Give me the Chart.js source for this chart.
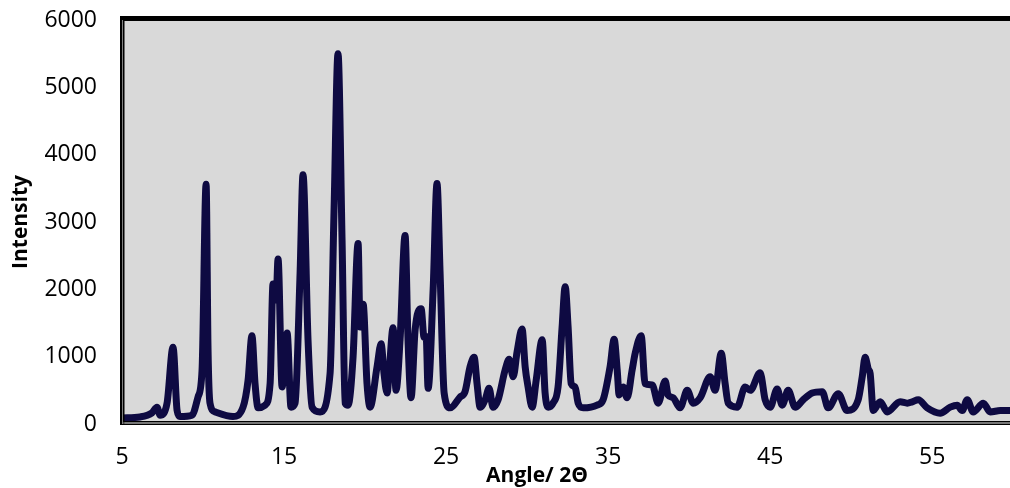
<!DOCTYPE html>
<html>
<head>
<meta charset="utf-8">
<title>Difractograma</title>
<script src="https://cdn.jsdelivr.net/npm/chart.js@4/dist/chart.umd.min.js"></script>
<style>
  html, body { margin: 0; padding: 0; background: #fff; }
  canvas { display: block; }
</style>
</head>
<body>
<canvas id="graficoDRX" width="1010" height="488"></canvas>
<script>
// Patrón de difracción: ángulo 2Θ y su intensidad
const angulos = [
  5.00, 6.11, 6.85, 7.16, 7.35, 7.78, 8.15, 8.40, 8.58, 9.32,
  9.69, 9.94, 10.19, 10.31, 10.43, 10.74, 11.85, 12.47, 12.78, 13.02,
  13.21, 13.40, 13.83, 14.14, 14.32, 14.51, 14.63, 14.88, 15.19, 15.43,
  15.68, 15.99, 16.17, 16.48, 16.73, 17.22, 17.84, 18.09, 18.33, 18.58,
  18.77, 18.95, 19.26, 19.57, 19.69, 19.88, 20.12, 20.31, 20.74, 20.99,
  21.17, 21.36, 21.48, 21.73, 21.91, 22.16, 22.47, 22.65, 22.84, 23.09,
  23.46, 23.64, 23.77, 23.89, 24.20, 24.44, 24.63, 24.88, 25.25, 25.86,
  26.17, 26.48, 26.73, 26.91, 27.10, 27.41, 27.65, 27.90, 28.21, 28.64,
  28.89, 29.14, 29.38, 29.69, 29.88, 30.06, 30.31, 30.56, 30.93, 31.11,
  31.30, 31.60, 31.91, 32.16, 32.35, 32.53, 32.72, 32.96, 33.15, 33.46,
  34.32, 34.69, 35.12, 35.37, 35.56, 35.68, 35.93, 36.17, 36.48, 36.67,
  37.04, 37.28, 37.72, 38.09, 38.52, 38.70, 39.01, 39.44, 39.88, 40.25,
  40.68, 41.30, 41.60, 41.98, 42.22, 42.41, 42.96, 43.46, 43.77, 44.38,
  44.69, 45.00, 45.43, 45.74, 46.11, 46.54, 47.04, 47.59, 48.21, 48.58,
  49.20, 49.75, 50.43, 50.68, 50.86, 51.05, 51.17, 51.36, 51.79, 52.22,
  53.02, 53.46, 53.77, 54.14, 54.69, 55.49, 56.11, 56.54, 56.85, 57.16,
  57.53, 58.15, 58.58, 59.20, 59.81, 60.00
];

const intensidades = [
  90, 105, 165, 250, 130, 310, 1140, 200, 110, 130,
  400, 800, 3560, 1100, 310, 180, 110, 250, 650, 1310,
  600, 240, 280, 600, 2080, 1840, 2450, 550, 1350, 250,
  310, 2240, 3700, 1250, 250, 180, 750, 3220, 5500, 2730,
  310, 280, 1000, 2680, 1440, 1780, 600, 250, 850, 1190,
  750, 460, 750, 1430, 500, 1250, 2800, 1250, 390, 1400,
  1710, 1290, 1300, 530, 1990, 3570, 2240, 460, 240, 400,
  480, 850, 990, 600, 250, 360, 530, 250, 360, 800,
  960, 700, 1070, 1410, 850, 550, 250, 650, 1250, 460,
  250, 310, 550, 1440, 2040, 1440, 600, 550, 310, 240,
  280, 360, 850, 1260, 800, 430, 550, 390, 800, 1050,
  1310, 600, 580, 310, 640, 430, 390, 240, 500, 310,
  390, 700, 500, 1050, 600, 310, 250, 550, 500, 760,
  360, 250, 520, 280, 500, 250, 360, 460, 480, 240,
  450, 200, 360, 700, 990, 820, 750, 200, 330, 180,
  330, 310, 330, 360, 240, 160, 250, 280, 200, 360,
  180, 310, 180, 200, 200, 190
];

const ticksX = [5, 15, 25, 35, 45, 55];
const ticksY = [0, 1000, 2000, 3000, 4000, 5000, 6000];

const tituloX = "Angle/ 2Θ";
const tituloY = "Intensity";

Chart.defaults.font.family = "'Open Sans', sans-serif";
Chart.defaults.color = "#000";

// Fondo gris del área de trazado y marco negro
const fondoYMarco = {
  id: "fondoYMarco",
  beforeDatasetsDraw(chart) {
    const { ctx, chartArea: a } = chart;
    ctx.save();
    ctx.fillStyle = "#d9d9d9";
    ctx.fillRect(a.left, a.top, a.right - a.left, a.bottom - a.top);
    ctx.restore();
  },
  afterDatasetsDraw(chart) {
    const { ctx, chartArea: a } = chart;
    const ancho = a.right - a.left + 2;
    const alto = a.bottom - a.top;
    ctx.save();
    ctx.fillStyle = "#000";
    ctx.fillRect(a.left - 2, a.top - 4, ancho, 5);
    ctx.fillRect(a.left - 2, a.top - 4, 2, alto + 5);
    ctx.fillRect(a.left + 1, a.top, 1.5, alto);
    ctx.fillRect(a.left - 2, a.bottom - 3, ancho, 1.5);
    ctx.fillRect(a.left - 2, a.bottom - 0.5, ancho, 1.5);
    ctx.fillStyle = "#808080";
    ctx.fillRect(a.left, a.top, 1, alto);
    ctx.fillRect(a.left, a.bottom - 1.5, ancho, 1);
    ctx.restore();
  },
  afterDraw(chart) {
    const { ctx } = chart;
    ctx.save();
    ctx.font = "bold 21px 'Open Sans', sans-serif";
    ctx.fillStyle = "#000";
    ctx.textAlign = "center";
    ctx.textBaseline = "alphabetic";
    ctx.fillText(tituloX, 537, 482);
    ctx.restore();
  }
};

new Chart(document.getElementById("graficoDRX"), {
  type: "line",
  data: {
    datasets: [{
      label: tituloY,
      data: angulos.map((x, i) => ({ x, y: intensidades[i] })),
      borderColor: "#0e0a42",
      borderWidth: 7,
      borderJoinStyle: "round",
      borderCapStyle: "round",
      cubicInterpolationMode: "monotone",
      pointRadius: 0,
      fill: false
    }]
  },
  options: {
    responsive: false,
    animation: false,
    layout: { padding: { top: 20, right: 0, left: 0, bottom: 0 } },
    plugins: {
      legend: { display: false },
      tooltip: { enabled: false }
    },
    scales: {
      x: {
        type: "linear",
        min: 5,
        max: 59.8,
        grid: { display: false, drawTicks: false },
        border: { display: false },
        ticks: { font: { size: 23 }, padding: 20, maxRotation: 0, callback: v => String(v) },
        afterBuildTicks: scale => { scale.ticks = ticksX.map(v => ({ value: v })); },
        afterFit: scale => { scale.height = 64; scale.paddingLeft = 0; scale.paddingRight = 0; }
      },
      y: {
        min: 0,
        max: 6000,
        grid: { display: false, drawTicks: false },
        border: { display: false },
        ticks: { font: { size: 23 }, padding: 25, callback: v => String(v) },
        afterBuildTicks: scale => { scale.ticks = ticksY.map(v => ({ value: v })); },
        afterFit: scale => { scale.width = 122; scale.paddingTop = 0; scale.paddingBottom = 0; },
        title: {
          display: true,
          text: tituloY,
          font: { size: 21, weight: "bold" },
          padding: { top: 8, bottom: 0 }
        }
      }
    }
  },
  plugins: [fondoYMarco]
});
</script>
</body>
</html>
